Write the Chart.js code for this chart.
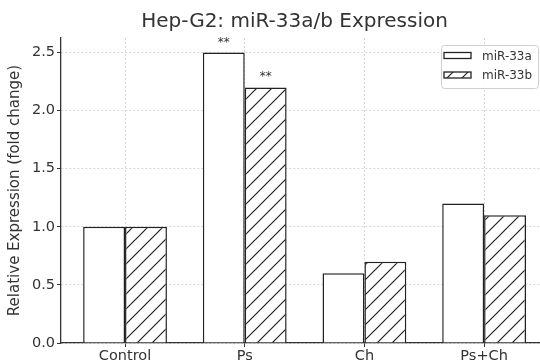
<!DOCTYPE html>
<html>
<head>
<meta charset="utf-8">
<script src="https://cdn.jsdelivr.net/npm/chart.js@4/dist/chart.umd.min.js"></script>
<style>
  html, body { margin: 0; padding: 0; background: #fff; }
  #wrap { width: 540px; height: 360px; }
</style>
</head>
<body>
<div id="wrap"><canvas id="c" width="540" height="360"></canvas></div>
<script>
// ---- data ----
const categories = ['Control', 'Ps', 'Ch', 'Ps+Ch'];
const seriesNames = ['miR-33a', 'miR-33b'];
const mir33a = [1.0, 2.5, 0.6, 1.2];
const mir33b = [1.0, 2.2, 0.7, 1.1];
const sigA = ['', '**', '', ''];
const sigB = ['', '**', '', ''];
const yTicks = [0.0, 0.5, 1.0, 1.5, 2.0, 2.5];
const titleText = 'Hep-G2: miR-33a/b Expression';
const yLabel = 'Relative Expression (fold change)';

// ---- style ----
const FONT = "'DejaVu Sans', 'Liberation Sans', sans-serif";
const TXT = '#333';
const EDGE = '#222';

function makeHatch() {
  const s = 15;
  const c = document.createElement('canvas');
  c.width = s; c.height = s;
  const g = c.getContext('2d');
  g.fillStyle = '#fff';
  g.fillRect(0, 0, s, s);
  g.strokeStyle = EDGE;
  g.lineWidth = 1.2;
  g.beginPath();
  g.moveTo(0, s); g.lineTo(s, 0);
  g.moveTo(-s / 2, s / 2); g.lineTo(s / 2, -s / 2);
  g.moveTo(s / 2, s * 1.5); g.lineTo(s * 1.5, s / 2);
  g.stroke();
  return g.createPattern(c, 'repeat');
}
const hatch = makeHatch();

const extras = {
  id: 'extras',
  afterLayout(chart) {
    const t = chart.titleBlock;
    if (t) { t.left = 49; t.right = 540; }
  },
  afterDatasetsDraw(chart) {
    const ctx = chart.ctx;
    ctx.save();
    // significance marks
    ctx.font = '12px ' + FONT;
    ctx.fillStyle = TXT;
    ctx.textAlign = 'center';
    ctx.textBaseline = 'alphabetic';
    [sigA, sigB].forEach((arr, di) => {
      const meta = chart.getDatasetMeta(di);
      arr.forEach((s, i) => {
        if (!s) return;
        const bar = meta.data[i];
        ctx.fillText(s, bar.x, bar.y - 7);
      });
    });
    // legend
    ctx.beginPath();
    ctx.roundRect(441.5, 45.5, 97, 43, 3);
    ctx.fillStyle = 'rgba(255,255,255,0.85)';
    ctx.fill();
    ctx.strokeStyle = '#d0d0d0';
    ctx.lineWidth = 1;
    ctx.stroke();
    const fills = ['#fff', hatch];
    const ys = [55.5, 75];
    seriesNames.forEach((n, i) => {
      ctx.fillStyle = fills[i];
      ctx.fillRect(444, ys[i] - 3, 27, 6);
      ctx.strokeStyle = EDGE;
      ctx.lineWidth = 1.3;
      ctx.strokeRect(444, ys[i] - 3, 27, 6);
      ctx.fillStyle = TXT;
      ctx.font = '12px ' + FONT;
      ctx.textAlign = 'left';
      ctx.textBaseline = 'middle';
      ctx.fillText(n, 482, ys[i] + 1);
    });
    ctx.restore();
  }
};

const gridOpts = { color: '#d6d6d6', lineWidth: 1, tickColor: '#333', tickLength: 4, offset: false };
const borderOpts = { color: '#333', width: 1.3, dash: [2, 2] };

new Chart(document.getElementById('c'), {
  type: 'bar',
  data: {
    datasets: [
      {
        label: seriesNames[0],
        data: mir33a.map((v, i) => ({ x: i, y: v })),
        backgroundColor: '#fff',
        borderColor: EDGE,
        borderWidth: 1.5,
        categoryPercentage: 0.7,
        barPercentage: 1.0
      },
      {
        label: seriesNames[1],
        data: mir33b.map((v, i) => ({ x: i, y: v })),
        backgroundColor: hatch,
        borderColor: EDGE,
        borderWidth: 1.5,
        categoryPercentage: 0.7,
        barPercentage: 1.0
      }
    ]
  },
  options: {
    responsive: false,
    animation: false,
    devicePixelRatio: 1,
    layout: { padding: { left: 0, right: 0, top: 0, bottom: 0 } },
    plugins: {
      legend: { display: false },
      tooltip: { enabled: false },
      title: {
        display: true,
        text: titleText,
        color: TXT,
        font: { family: FONT, size: 20, weight: 'normal' },
        padding: { top: 10, bottom: 4 }
      }
    },
    scales: {
      x: {
        type: 'linear',
        offset: false,
        min: -0.535,
        max: 3.467,
        afterBuildTicks: s => { s.ticks = categories.map((_, i) => ({ value: i })); },
        afterFit: s => { s.height = 17; },
        ticks: {
          callback: v => categories[v],
          color: TXT,
          font: { family: FONT, size: 14.5 },
          padding: 1,
          autoSkip: false,
          maxRotation: 0
        },
        grid: gridOpts,
        border: borderOpts
      },
      y: {
        min: 0,
        max: 2.625,
        afterBuildTicks: s => { s.ticks = yTicks.map(v => ({ value: v })); },
        afterFit: s => { s.width = 61; },
        ticks: {
          callback: v => Number(v).toFixed(1),
          color: TXT,
          font: { family: FONT, size: 14.5 },
          padding: 2
        },
        title: {
          display: true,
          text: yLabel,
          color: TXT,
          font: { family: FONT, size: 15 },
          padding: { top: 6, bottom: 0 }
        },
        grid: gridOpts,
        border: borderOpts
      }
    }
  },
  plugins: [extras]
});
</script>
</body>
</html>
